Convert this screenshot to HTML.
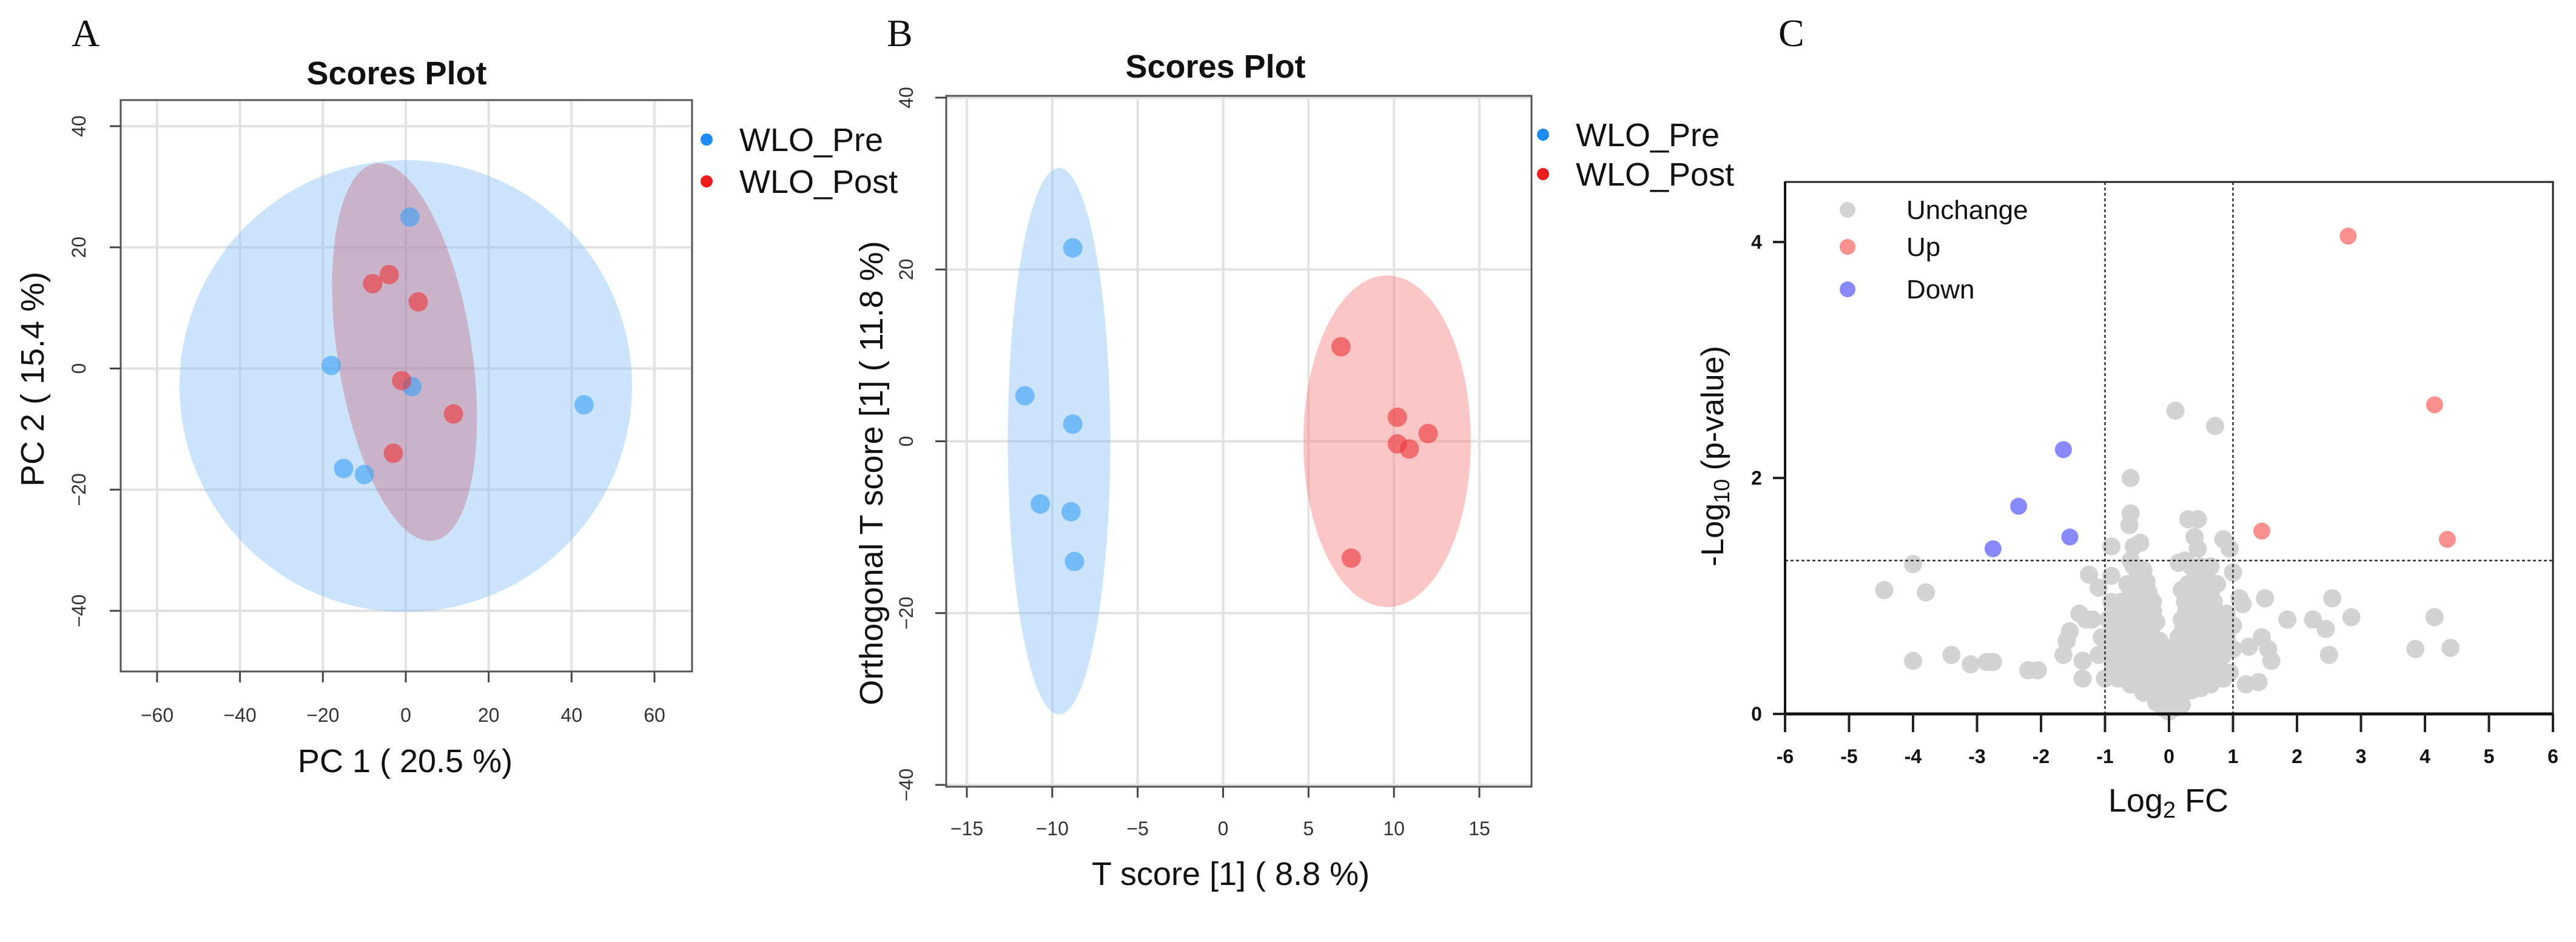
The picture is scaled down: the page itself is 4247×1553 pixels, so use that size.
<!DOCTYPE html>
<html><head><meta charset="utf-8"><style>
html,body{margin:0;padding:0;background:#fff;}
svg{display:block;font-family:"Liberation Sans",sans-serif;}
</style></head><body>
<svg id="fig" width="4247" height="1553" viewBox="0 0 4247 1553">
<g id="pA"></g>
<g id="pB"></g>
<g id="pC"></g>
</svg>
<script>
// ---- Panel A data ----
const aTicksX=[-60,-40,-20,0,20,40,60];
const aTicksY=[-40,-20,0,20,40];
const aPreX=[1,-18,1.5,43,-15,-10];
const aPreY=[25,0.5,-3,-6,-16.5,-17.5];
const aPostX=[-8,-4,3,-1,11.5,-3];
const aPostY=[14,15.5,11,-2,-7.5,-14];
// ---- Panel B data ----
const bTicksX=[-15,-10,-5,0,5,10,15];
const bTicksY=[-40,-20,0,20,40];
const bPreX=[-8.8,-11.6,-8.8,-10.7,-8.9,-8.7];
const bPreY=[22.5,5.3,2,-7.3,-8.2,-14];
const bPostX=[6.9,10.2,12,10.2,10.9,7.5];
const bPostY=[11,2.8,0.9,-0.3,-0.9,-13.6];
// ---- Panel C data ----
const cTicksX=[-6,-5,-4,-3,-2,-1,0,1,2,3,4,5,6];
const cTicksY=[0,2,4];
const cUp=[[2.8,4.05],[4.15,2.62],[4.35,1.48],[1.45,1.55]];
const cDown=[[-1.65,2.24],[-2.35,1.76],[-2.75,1.4],[-1.55,1.5]];
const cGray=[[-4.45,1.05],[-4.0,1.27],[-3.8,1.03],[-4.0,0.45],[-3.4,0.5],[-3.1,0.42],[-2.85,0.44],[-2.75,0.44],[-2.2,0.37],[-2.05,0.37],[-1.65,0.5],[-1.6,0.62],[-1.55,0.7],[-1.35,0.3],[-1.35,0.45],[-1.4,0.85],[-1.3,0.8],[-1.25,1.18],[-1.1,1.07],[-0.9,1.17],[-0.6,2.0],[0.1,2.57],[0.72,2.44],[-0.6,1.7],[-0.62,1.6],[-0.9,1.42],[-0.55,1.42],[-0.45,1.45],[-0.6,1.3],[0.3,1.65],[0.45,1.65],[0.4,1.5],[0.45,1.4],[0.85,1.48],[0.95,1.4],[0.15,1.28],[1.0,1.2],[1.1,0.98],[1.15,0.93],[1.5,0.98],[1.0,0.75],[1.25,0.57],[1.45,0.65],[1.55,0.55],[1.6,0.45],[1.2,0.25],[1.4,0.27],[1.85,0.8],[2.25,0.8],[2.45,0.72],[2.55,0.98],[2.5,0.5],[2.85,0.82],[3.85,0.55],[4.15,0.82],[4.4,0.56],[1.0,0.55],[0.95,0.35],
[-0.1,0.05],[0,0.02],[0.1,0.05],[0.2,0.08],[-0.2,0.1],[0.05,0.1],[-0.05,0.12],[0.15,0.14],
[-0.4,0.18],[-0.25,0.2],[-0.1,0.2],[0.05,0.2],[0.2,0.2],[0.35,0.2],[0.5,0.22],[-0.6,0.25],[0.65,0.25],
[-0.5,0.27],[-0.33,0.28],[-0.18,0.28],[-0.03,0.28],[0.12,0.28],[0.27,0.28],[0.42,0.28],[0.57,0.28],[-0.7,0.3],
[-1.0,0.3],[-0.8,0.3],[-0.6,0.35],[-0.45,0.35],[-0.3,0.35],[-0.15,0.35],[0,0.35],[0.15,0.35],[0.3,0.35],[0.45,0.35],[0.6,0.35],[0.75,0.35],[0.85,0.3],
[-0.88,0.42],[-0.73,0.42],[-0.58,0.42],[-0.43,0.42],[-0.28,0.42],[-0.13,0.42],[0.02,0.42],[0.17,0.42],[0.32,0.42],[0.47,0.42],[0.62,0.42],[0.77,0.42],
[-1.1,0.5],[-0.95,0.5],[-0.8,0.5],[-0.65,0.5],[-0.5,0.5],[-0.35,0.5],[-0.2,0.5],[-0.05,0.5],[0.1,0.5],[0.25,0.5],[0.4,0.5],[0.55,0.5],[0.7,0.5],[0.85,0.5],
[-0.98,0.57],[-0.83,0.57],[-0.68,0.57],[-0.53,0.57],[-0.38,0.57],[-0.23,0.57],[-0.08,0.57],[0.07,0.57],[0.22,0.57],[0.37,0.57],[0.52,0.57],[0.67,0.57],[0.82,0.57],
[-1.05,0.65],[-0.9,0.65],[-0.75,0.65],[-0.6,0.65],[-0.45,0.65],[-0.3,0.65],[-0.15,0.62],[0.15,0.65],[0.3,0.65],[0.45,0.65],[0.6,0.65],[0.75,0.65],[0.9,0.65],
[-0.88,0.72],[-0.73,0.72],[-0.58,0.72],[-0.43,0.72],[-0.28,0.72],[0.22,0.72],[0.37,0.72],[0.52,0.72],[0.67,0.72],[0.82,0.72],
[-1.2,0.8],[-0.95,0.8],[-0.8,0.8],[-0.65,0.8],[-0.5,0.8],[-0.35,0.8],[-0.2,0.78],[0.2,0.8],[0.35,0.8],[0.5,0.8],[0.65,0.8],[0.8,0.8],[0.9,0.85],
[-0.83,0.87],[-0.68,0.87],[-0.53,0.87],[-0.38,0.87],[-0.25,0.87],[0.27,0.87],[0.42,0.87],[0.57,0.87],[0.72,0.87],
[-0.9,0.95],[-0.75,0.95],[-0.55,0.95],[-0.4,0.95],[-0.25,0.95],[0.25,0.95],[0.4,0.95],[0.55,0.95],[0.7,0.95],[0.2,1.05],
[-0.6,1.02],[-0.45,1.02],[-0.32,1.03],[0.35,1.02],[0.5,1.02],[0.65,1.02],
[-0.65,1.1],[-0.5,1.1],[-0.35,1.12],[0.3,1.1],[0.45,1.1],[0.6,1.1],[0.75,1.1],
[-0.55,1.25],[-0.4,1.22],[0.35,1.25],[0.5,1.25],[0.65,1.25],[0.25,1.3],[-0.48,1.17],[0.42,1.18],[0.58,1.18]];

const NS="http://www.w3.org/2000/svg";
function mk(parent,tag,attrs,text){const e=document.createElementNS(NS,tag);for(const k in attrs)e.setAttribute(k,attrs[k]);if(text!==undefined)e.textContent=text;parent.appendChild(e);return e;}
function lin(d0,d1,p0,p1){return v=>p0+(v-d0)*(p1-p0)/(d1-d0);}

function scoresPanel(g,o){
  const sx=lin(o.xd[0],o.xd[1],o.xp[0],o.xp[1]);
  const sy=lin(o.yd[0],o.yd[1],o.yp[0],o.yp[1]);
  let t=mk(g,'text',{x:o.letter[0],y:o.letter[1],'font-family':'Liberation Serif, serif','font-size':64,fill:'#111'},o.letterText);
  
  
  t=mk(g,'text',{x:o.titleX,y:o.titleY,'text-anchor':'middle','font-size':54,'font-weight':'bold',fill:'#111'},'Scores Plot');
  
  
  for(const v of o.tx){const x=sx(v);
    let l=mk(g,'line',{x1:x,x2:x,y1:o.box[1],y2:o.box[3],stroke:'#e2e2e2','stroke-width':4});
    
    
    l=mk(g,'line',{x1:x,x2:x,y1:o.box[3],y2:o.box[3]+18,stroke:'#444','stroke-width':3});
    
    
    const tl=mk(g,'text',{x:x,y:o.xlabY,'text-anchor':'middle','font-size':32,fill:'#333'},String(v).replace('-','\u2212'));
    
    
  }
  for(const v of o.ty){const y=sy(v);
    let l=mk(g,'line',{x1:o.box[0],x2:o.box[2],y1:y,y2:y,stroke:'#e2e2e2','stroke-width':4});
    
    
    l=mk(g,'line',{x1:o.box[0]-18,x2:o.box[0],y1:y,y2:y,stroke:'#444','stroke-width':3});
    
    
    const tl=mk(g,'text',{x:o.ylabX,y:y,'text-anchor':'middle','font-size':32,fill:'#333',transform:`rotate(-90 ${o.ylabX} ${y})`},String(v).replace('-','\u2212'));
    
    
  }
  for(const el of o.ellipses){
    const cx=sx(el.cx),cy=sy(el.cy),rx=Math.abs(sx(el.cx+el.rx)-cx),ry=Math.abs(sy(el.cy+el.ry)-cy);
    const e=mk(g,'ellipse',{cx:cx,cy:cy,rx:rx,ry:ry,fill:el.fill,transform:`rotate(${el.rot||0} ${cx} ${cy})`});
    
    
  }
  for(let i=0;i<o.preX.length;i++){
    const c=mk(g,'circle',{cx:sx(o.preX[i]),cy:sy(o.preY[i]),r:16,fill:'rgba(60,160,245,0.62)'});
    
    
  }
  for(let i=0;i<o.postX.length;i++){
    const c=mk(g,'circle',{cx:sx(o.postX[i]),cy:sy(o.postY[i]),r:16,fill:'rgba(235,55,60,0.62)'});
    
    
  }
  const b=mk(g,'rect',{x:o.box[0],y:o.box[1],width:o.box[2]-o.box[0],height:o.box[3]-o.box[1],fill:'none',stroke:'#555','stroke-width':3});
  
  
  t=mk(g,'text',{x:o.xt[0],y:o.xt[1],'text-anchor':'middle','font-size':54,fill:'#111'},o.xtitle);
  
  
  t=mk(g,'text',{x:o.yt[0],y:o.yt[1],'text-anchor':'middle','font-size':54,fill:'#111',transform:`rotate(-90 ${o.yt[0]} ${o.yt[1]})`},o.ytitle);
  
  
  const lg=[['WLO_Pre','#1e8cf5',o.leg[1]],['WLO_Post','#ee1c1c',o.leg[2]]];
  for(const L of lg){
    const c=mk(g,'circle',{cx:o.leg[0],cy:L[2],r:10,fill:L[1]});
    
    
    const tx=mk(g,'text',{x:o.leg[0]+54,y:L[2]+19,'font-size':54,fill:'#111'},L[0]);
    
    
  }
}

scoresPanel(document.getElementById('pA'),{
  letter:[118,76],letterText:'A',titleX:654,titleY:139,
  xd:[-60,60],xp:[259,1079],yd:[-40,40],yp:[1007,208],box:[199,165,1141,1107],
  tx:aTicksX,ty:aTicksY,xlabY:1190,ylabX:141,
  ellipses:[{cx:0,cy:-2.9,rx:54.6,ry:37.3,fill:'rgba(130,190,245,0.42)',name:'pre-confidence-ellipse'},
            {cx:-0.3,cy:2.7,rx:16.2,ry:31.5,rot:-8.8,fill:'rgba(200,80,100,0.33)',name:'post-confidence-ellipse'}],
  preX:aPreX,preY:aPreY,postX:aPostX,postY:aPostY,
  xt:[668,1273],xtitle:'PC 1 ( 20.5 %)',yt:[72,625],ytitle:'PC 2 ( 15.4 %)',
  leg:[1165,230,299]
});
scoresPanel(document.getElementById('pB'),{
  letter:[1462,76],letterText:'B',titleX:2004,titleY:128,
  xd:[-15,15],xp:[1594,2439],yd:[-40,40],yp:[1294,161],box:[1560,158,2525,1297],
  tx:bTicksX,ty:bTicksY,xlabY:1377,ylabX:1505,
  ellipses:[{cx:-9.6,cy:0,rx:3.0,ry:31.8,fill:'rgba(130,190,245,0.42)',name:'pre-confidence-ellipse'},
            {cx:9.6,cy:0,rx:4.9,ry:19.3,fill:'rgba(248,120,120,0.42)',name:'post-confidence-ellipse'}],
  preX:bPreX,preY:bPreY,postX:bPostX,postY:bPostY,
  xt:[2029,1459],xtitle:'T score [1] ( 8.8 %)',yt:[1455,780],ytitle:'Orthogonal T score [1] ( 11.8 %)',
  leg:[2544,222,287]
});

// ---- Panel C volcano ----
(function(){
  const g=document.getElementById('pC');
  const box=[2943,300,4209,1177];
  const sx=lin(-6,6,2943,4209), sy=lin(0,4,1177,399);
  let t=mk(g,'text',{x:2932,y:76,'font-family':'Liberation Serif, serif','font-size':64,fill:'#111'},'C');
  
  
  for(const p of cGray){
    const c=mk(g,'circle',{cx:sx(p[0]),cy:sy(p[1]),r:15,fill:'#d3d3d3'});
    
    
  }
  for(const p of cUp){
    const c=mk(g,'circle',{cx:sx(p[0]),cy:sy(p[1]),r:14,fill:'#ff9090'});
    
    
  }
  for(const p of cDown){
    const c=mk(g,'circle',{cx:sx(p[0]),cy:sy(p[1]),r:14,fill:'#8888ff'});
    
    
  }
  const dash={stroke:'#333','stroke-width':2.5,'stroke-dasharray':'5,4'};
  for(const v of [-1,1]){
    const l=mk(g,'line',Object.assign({x1:sx(v),x2:sx(v),y1:box[1],y2:box[3]},dash));
    
    
  }
  const h=mk(g,'line',Object.assign({x1:box[0],x2:box[2],y1:sy(1.3),y2:sy(1.3)},dash));
  
  
  const fr=mk(g,'rect',{x:box[0],y:box[1],width:box[2]-box[0],height:box[3]-box[1],fill:'none',stroke:'#222','stroke-width':3});
  
  
  const ax=mk(g,'line',{x1:box[0],x2:box[2],y1:box[3],y2:box[3],stroke:'#111','stroke-width':5});
  
  
  const ay=mk(g,'line',{x1:box[0],x2:box[0],y1:box[1],y2:box[3],stroke:'#111','stroke-width':4});
  
  
  for(const v of cTicksX){const x=sx(v);
    const l=mk(g,'line',{x1:x,x2:x,y1:box[3],y2:box[3]+30,stroke:'#222','stroke-width':4});
    
    
    const tl=mk(g,'text',{x:x,y:1258,'text-anchor':'middle','font-size':32,'font-weight':'bold',fill:'#111'},String(v));
    
    
  }
  for(const v of cTicksY){const y=sy(v);
    const l=mk(g,'line',{x1:box[0]-20,x2:box[0],y1:y,y2:y,stroke:'#222','stroke-width':4});
    
    
    const tl=mk(g,'text',{x:2896,y:y+11,'text-anchor':'middle','font-size':32,'font-weight':'bold',fill:'#111'},String(v));
    
    
  }
  t=mk(g,'text',{x:3575,y:1338,'text-anchor':'middle','font-size':54,fill:'#111'});
  
  
  mk(t,'tspan',{},'Log');
  mk(t,'tspan',{'font-size':38,dy:10},'2');
  mk(t,'tspan',{dy:-10},' FC');
  t=mk(g,'text',{x:2841,y:752,'text-anchor':'middle','font-size':52,fill:'#111',transform:'rotate(-90 2841 752)'});
  
  
  mk(t,'tspan',{},'-Log');
  mk(t,'tspan',{'font-size':36,dy:10},'10');
  mk(t,'tspan',{dy:-10},' (p-value)');
  const leg=[['Unchange','#d3d3d3',346],['Up','#ff9090',407],['Down','#8888ff',477]];
  for(const L of leg){
    const c=mk(g,'circle',{cx:3046,cy:L[2],r:13,fill:L[1]});
    
    
    const tx=mk(g,'text',{x:3143,y:L[2]+15,'font-size':44,fill:'#111'},L[0]);
    
    
  }
})();
</script>
</body></html>
